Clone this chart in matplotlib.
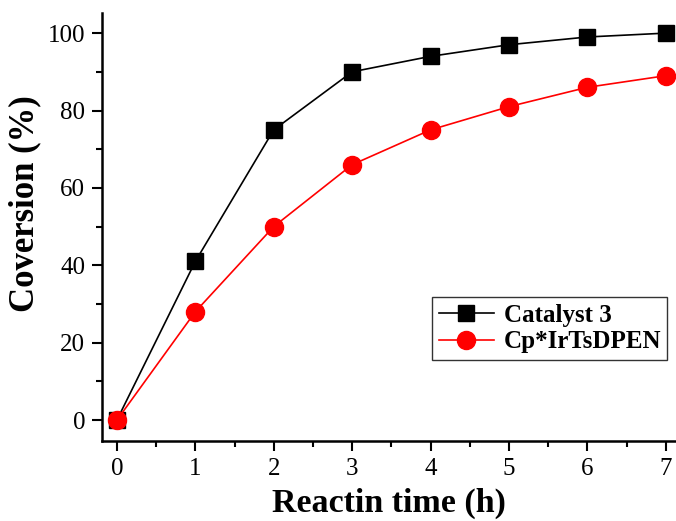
import numpy as np
import matplotlib.pyplot as plt

plt.rcParams['font.family'] = ['Liberation Serif', 'DejaVu Serif']

time_h = [0, 1, 2, 3, 4, 5, 6, 7]
catalyst3 = [0, 41, 75, 90, 94, 97, 99, 100]
cp_irtsdpen = [0, 28, 50, 66, 75, 81, 86, 89]

fig = plt.figure(figsize=(6.76, 5.21), dpi=100)
ax = fig.add_axes([102 / 676, 80 / 521, 574 / 676, 428 / 521])

ax.plot(time_h, catalyst3, color='black', lw=1.2, marker='s', ms=11,
        mfc='black', mec='black', label='Catalyst 3')
ax.plot(time_h, cp_irtsdpen, color='red', lw=1.2, marker='o', ms=13,
        mfc='red', mec='red', label='Cp*IrTsDPEN')

ax.set_xlim(-0.19, 7.13)
ax.set_ylim(-5.4, 105.2)
ax.set_xticks(range(0, 8))
ax.set_xticks(np.arange(0.5, 7, 1), minor=True)
ax.set_yticks(range(0, 101, 20))
ax.set_yticks(range(10, 101, 20), minor=True)

for s in ['top', 'right']:
    ax.spines[s].set_visible(False)
for s in ['left', 'bottom']:
    ax.spines[s].set_linewidth(1.8)

ax.tick_params(which='major', direction='out', length=7, width=1.5,
               labelsize=18, pad=5)
ax.tick_params(which='minor', direction='out', length=4, width=1.5)

ax.set_xlabel('Reactin time (h)', fontsize=24.5, fontweight='bold', labelpad=6)
ax.set_ylabel('Coversion (%)', fontsize=25, fontweight='bold')
ax.yaxis.set_label_coords(-0.105, 0.554)

leg = ax.legend(loc='lower right', bbox_to_anchor=(0.985, 0.19),
                prop={'size': 18, 'weight': 'bold'}, fancybox=False,
                framealpha=1, edgecolor='#333333', handlelength=2.2,
                handletextpad=0.4, borderpad=0.25, labelspacing=0.15,
                borderaxespad=0)
leg.get_frame().set_linewidth(1.0)

fig.savefig('out.png', dpi=100)
